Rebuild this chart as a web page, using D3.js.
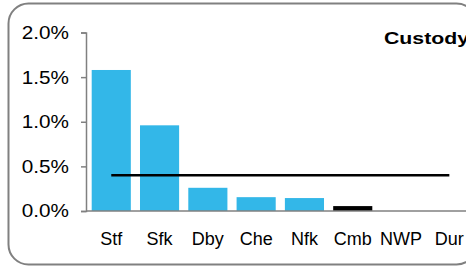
<!DOCTYPE html>
<html>
<head>
<meta charset="utf-8">
<script src="https://cdn.jsdelivr.net/npm/d3@7"></script>
<style>
	body { margin: 0; background: #fff; }
	svg { display: block; font-family: Arial, "Liberation Sans", sans-serif; }
</style>
</head>
<body>
<div id="chart"></div>
<script>
var categories = ["Stf", "Sfk", "Dby", "Che", "Nfk", "Cmb", "NWP", "Dur"];
var rates = [1.58, 0.96, 0.26, 0.155, 0.145, 0.055, 0, 0];
var highlight = ["Cmb"];
var average = 0.4;
var yTicks = [0, 0.5, 1.0, 1.5, 2.0];
var title = "Custody";

var width = 466, height = 271;
var fontFam = "Arial, 'Liberation Sans', sans-serif";

var svg = d3.select("#chart")
	.append("svg")
		.attr("width", width)
		.attr("height", height);

// rounded frame, runs off the right edge
svg.append("rect")
	.attr("x", 8.5)
	.attr("y", 3.5)
	.attr("width", 468)
	.attr("height", 261)
	.attr("rx", 20)
	.attr("ry", 20)
	.attr("fill", "#fff")
	.attr("stroke", "#808080")
	.attr("stroke-width", 2);

var x = d3.scaleBand()
	.domain(categories)
	.range([86, 474.6])
	.paddingInner(0.19)
	.paddingOuter(0.118);

var y = d3.scaleLinear()
	.domain([0, 2])
	.range([211, 32.5]);

// y axis
var yAxis = svg.append("g")
	.attr("transform", "translate(86,0)")
	.call(d3.axisLeft(y)
		.tickValues(yTicks)
		.tickSize(5)
		.tickPadding(10.2)
		.tickFormat(function(d) { return d.toFixed(1) + "%"; }));
yAxis.select(".domain").attr("stroke", "#808080").attr("stroke-width", 1.5);
yAxis.selectAll(".tick line").attr("stroke", "#808080").attr("stroke-width", 1.5);
yAxis.selectAll(".tick text")
	.attr("fill", "#000")
	.attr("transform", "scale(1.12,1)")
	.style("font-size", "18.5px")
	.style("font-family", fontFam);

// bars
svg.append("g").selectAll("rect")
	.data(categories)
	.enter().append("rect")
		.attr("x", function(d) { return x(d); })
		.attr("width", x.bandwidth())
		.attr("y", function(d, i) { return y(rates[i]); })
		.attr("height", function(d, i) { return y(0) - y(rates[i]); })
		.attr("fill", function(d) { return highlight.indexOf(d) >= 0 ? "#000" : "#33b7e8"; });

// x axis
var xAxis = svg.append("g")
	.attr("transform", "translate(0," + y(0) + ")")
	.call(d3.axisBottom(x).tickSize(0).tickPadding(21).tickSizeOuter(0));
xAxis.select(".domain").attr("stroke", "#808080").attr("stroke-width", 1.5)
	.attr("d", "M86,0H" + width);
xAxis.selectAll(".tick text")
	.attr("fill", "#000")
	.style("font-size", "18px")
	.style("font-family", fontFam);

// average line
var mid = function(d) { return x(d) + x.bandwidth() / 2; };
svg.append("path")
	.datum(categories)
	.attr("fill", "none")
	.attr("stroke", "#000")
	.attr("stroke-width", 2.5)
	.attr("d", d3.line()
		.x(function(d) { return mid(d); })
		.y(function() { return y(average); }));

svg.append("text")
	.attr("transform", "translate(384,44.3) scale(1.33,1)")
	.attr("font-size", "16px")
	.attr("font-weight", "bold")
	.attr("fill", "#000")
	.text(title);
</script>
</body>
</html>
